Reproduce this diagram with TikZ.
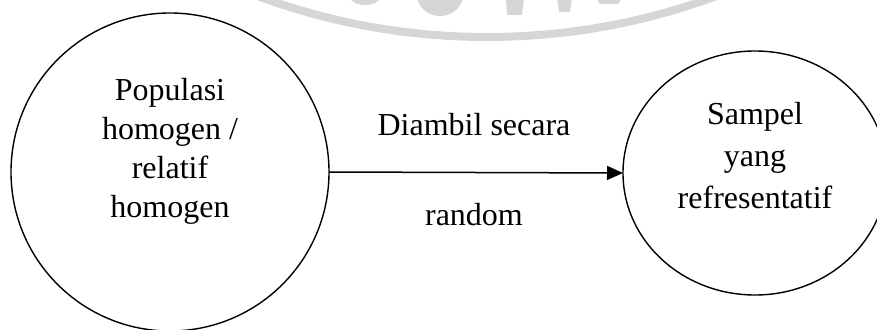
\documentclass[tikz,border=0pt]{standalone}
\usepackage{fontspec}
\setmainfont{Liberation Serif}
\usetikzlibrary{arrows.meta,shapes.geometric}
\definecolor{wmgray}{RGB}{214,214,214}
\tikzset{
  bubble/.style={draw=black, line width=1.4pt, inner sep=0pt, outer sep=0pt},
  bigtext/.style={font=\fontsize{32}{39}\selectfont, align=center, inner sep=0pt},
  conn/.style={line width=1.5pt, -{Triangle[length=16pt,width=14pt]}},
  wm/.style={draw=wmgray, line width=8pt},
  wmfill/.style={fill=wmgray, draw=none}
}
\begin{document}
\begin{tikzpicture}[x=1pt,y=-1pt]
\useasboundingbox (0,0) rectangle (877,329);
\clip (0,0) rectangle (877,329);
% faint watermark
\draw[wm] (487,-623) circle (660);
\fill[wmfill] (365,-3) ellipse (15 and 8);
\fill[wmfill] (440,-5) ellipse (23 and 21);
\fill[wmfill] (506,-2) -- (524,-2) -- (522,15) -- (507,15) -- cycle;
\fill[wmfill] (557,-2) -- (572,-2) -- (570,12) -- (559,12) -- cycle;
\fill[wmfill] (596,-2) -- (622,-2) -- (618,4) -- (600,4) -- cycle;
% shapes
\node[bubble, circle, minimum size=318pt] (pop) at (170,172) {};
\node[bubble, ellipse, minimum width=264pt, minimum height=244pt] (samp) at (755,173) {};
\node[bigtext] (poptext) at (170,151) {Populasi\\homogen /\\relatif\\homogen};
\node[bigtext, font=\fontsize{32}{42}\selectfont] (samptext) at (755,156) {Sampel\\yang\\refresentatif};
\draw[conn] (pop.east) -- (samp.west);
\node[bigtext, anchor=base] (lab1) at (474,135) {Diambil secara};
\node[bigtext, anchor=base] (lab2) at (474,225) {random};
\end{tikzpicture}
\end{document}
